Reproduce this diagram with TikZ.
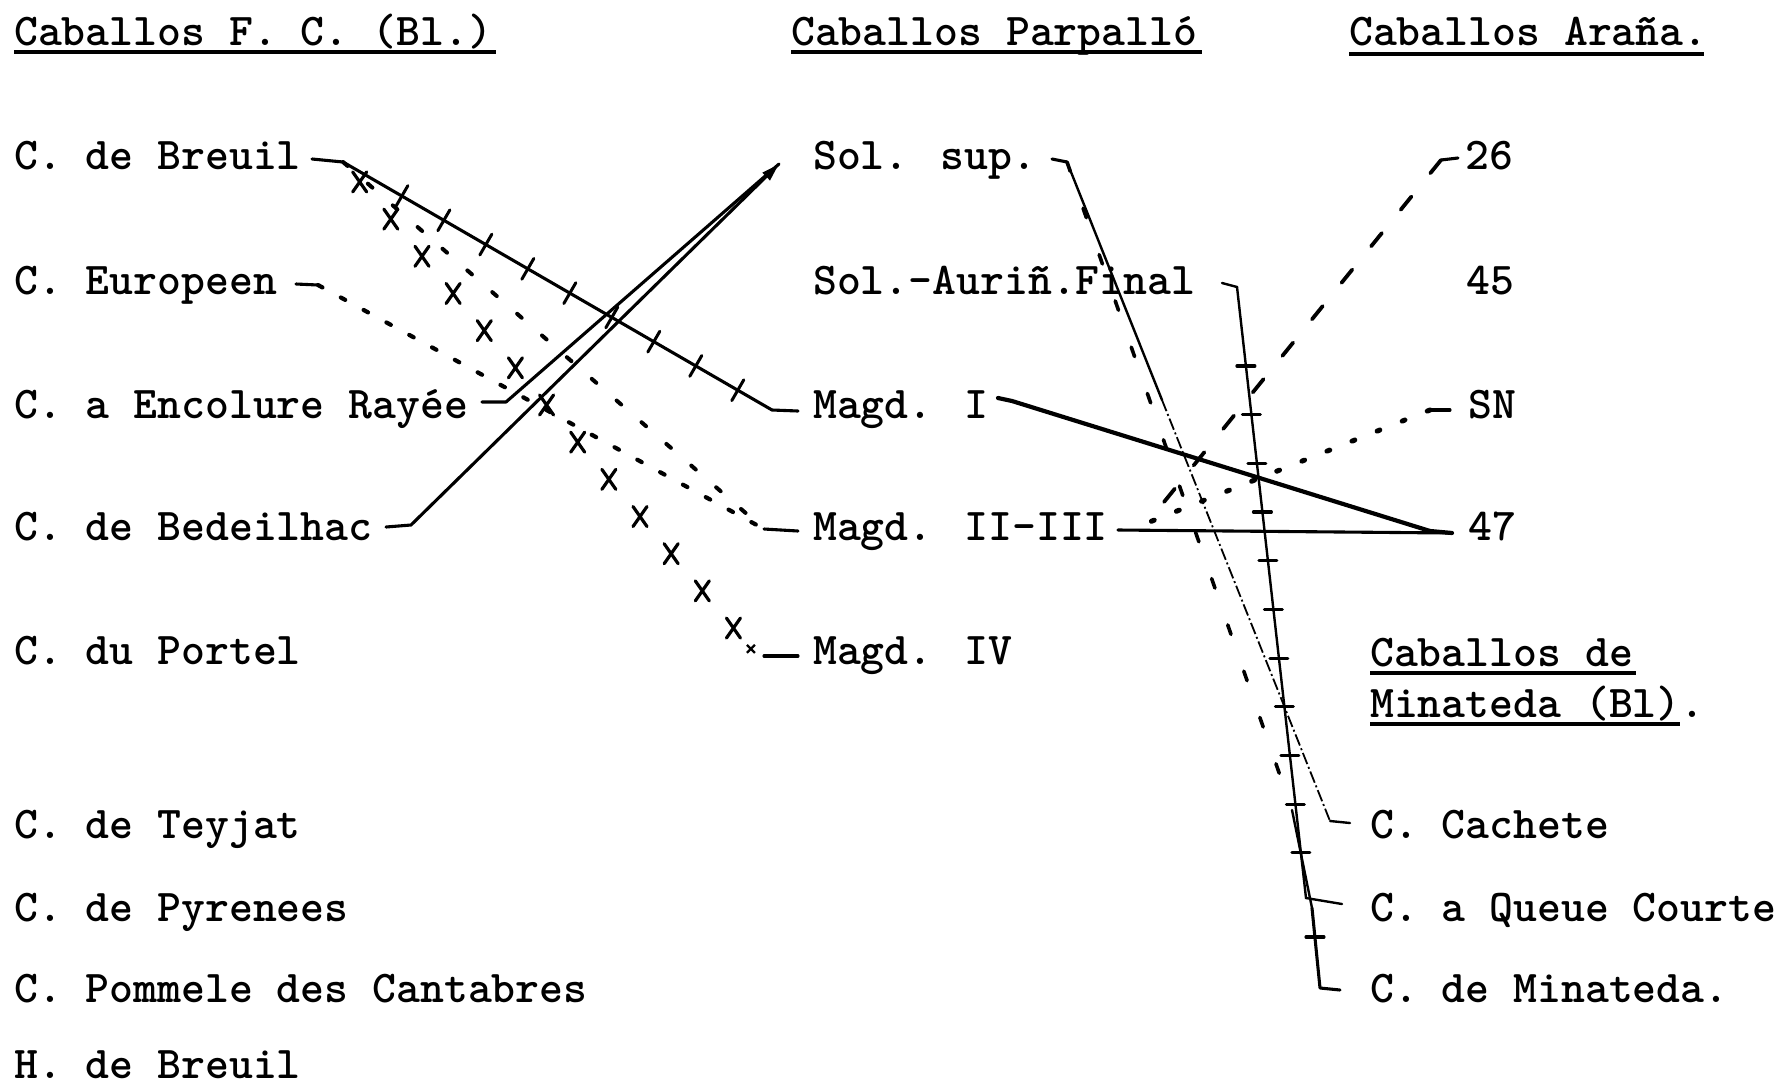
\documentclass[tikz,border=0pt]{standalone}
\usepackage{fontspec}
\usetikzlibrary{decorations.markings,arrows.meta}
\newcommand\twfont{\fontsize{45.5}{50}\selectfont\ttfamily\bfseries}
\begin{document}
\begin{tikzpicture}[x=1pt,y=-1pt,
  lbl/.style={anchor=base west,inner sep=0pt,font=\twfont},
  ln/.style={line width=3.1pt,line cap=round,line join=round},
  thk/.style={line width=4.2pt,line cap=round,line join=round},
  uline/.style={line width=3.2pt},
  thinln/.style={line width=2.4pt,line cap=round},
  dashdotln/.style={line width=1.8pt,dash pattern=on 12pt off 3pt on 2pt off 3pt},
  dotsC/.style={line width=4.2pt,line cap=round,dash pattern=on 5pt off 21pt},
  dotsD/.style={line width=4pt,line cap=round,dash pattern=on 6pt off 27pt},
  dashI/.style={line width=3.6pt,line cap=round,dash pattern=on 10pt off 39pt},
  dashJ/.style={line width=3.8pt,line cap=round,dash pattern=on 17pt off 30pt},
  dotsK/.style={line width=5pt,line cap=round,dash pattern=on 3pt off 24pt},
  tickline/.style={postaction={decorate,decoration={markings,
     mark=between positions 68pt and 460pt step 48.5pt with {\draw[line width=3pt] (0,-12) -- (0,12);}}}},
  xline/.style={postaction={decorate,decoration={markings,
     mark=between positions 26pt and 612pt step 48.5pt with {\pgftransformresetnontranslations\draw[line width=3.2pt,line cap=round] (-7,-10) -- (7,10) (-7,10) -- (7,-10);},
     mark=at position 1 with {\pgftransformresetnontranslations\draw[line width=2.4pt] (-4,-4) -- (4,4) (-4,4) -- (4,-4);}}}},
  plusline/.style={postaction={decorate,decoration={markings,
     mark=between positions 95pt and 590pt step 49pt with {\pgftransformresetnontranslations\draw[ln] (-9,0) -- (9,0);}}}},
]
\fill[white] (0,0) rectangle (1780,1088);
\useasboundingbox (0,0) rectangle (1780,1088);

% headings
\node[lbl] (hFC) at (14,45) {Caballos F. C. (Bl.)};
\node[lbl] (hPa) at (791,45) {Caballos Parpalló};
\node[lbl] (hAr) at (1349,45) {Caballos Araña.};
\draw[uline] (14,52) -- (496,52);
\draw[uline] (791,52) -- (1202,52);
\draw[line width=4pt] (1349,54) -- (1704,54);

% left column
\node[lbl] (breuil) at (14,169) {C. de Breuil};
\node[lbl] (europ) at (14,294) {C. Europeen};
\node[lbl] (encol) at (14,418) {C. a Encolure Rayée};
\node[lbl] (bedei) at (14,540) {C. de Bedeilhac};
\node[lbl] (portel) at (14,664) {C. du Portel};
\node[lbl] (teyjat) at (14,838) {C. de Teyjat};
\node[lbl] (pyr) at (14,921) {C. de Pyrenees};
\node[lbl] (pomm) at (14,1002) {C. Pommele des Cantabres};
\node[lbl] (hbreuil) at (14,1078) {H. de Breuil};

% middle column
\node[lbl] (solsup) at (813,169) {Sol. sup.};
\node[lbl] (solaur) at (813,294) {Sol.-Auriñ.Final};
\node[lbl] (mag1) at (813,418) {Magd. I};
\node[lbl] (mag23) at (813,540) {Magd. II-III};
\node[lbl] (mag4) at (813,664) {Magd. IV};

% Arana
\node[lbl] (a26) at (1465,169) {26};
\node[lbl] (a45) at (1466,294) {45};
\node[lbl] (aSN) at (1468,418) {SN};
\node[lbl] (a47) at (1468,540) {47};

% Minateda
\node[lbl] (hMi1) at (1370,666) {Caballos de};
\node[lbl] (hMi2) at (1370,717) {Minateda (Bl).};
\draw[uline] (1370,673) -- (1636,673);
\draw[uline] (1370,724) -- (1680,724);
\node[lbl] (cach) at (1370,838) {C. Cachete};
\node[lbl] (queue) at (1370,921) {C. a Queue Courte};
\node[lbl] (cmin) at (1370,1002) {C. de Minateda.};

% connector points
\coordinate (brS) at (312,159);
\coordinate (brO) at (343,162);
\coordinate (m1i) at (772,410);
\coordinate (m1e) at (798,411);
\coordinate (m4x) at (751,649);
\coordinate (m4s) at (764,656);
\coordinate (m4e) at (798,656);
\coordinate (euS) at (296,284);
\coordinate (euO) at (318,285);
\coordinate (m23i) at (764,529);
\coordinate (m23e) at (798,531);
\coordinate (enS) at (482,402);
\coordinate (enO) at (506,402);
\coordinate (bdS) at (386,527);
\coordinate (bdO) at (411,525);
\coordinate (ssA) at (779,164);
\coordinate (ssS) at (1052,159);
\coordinate (ssO) at (1067,162);
\coordinate (hMid) at (1162,400);
\coordinate (cachA) at (1330,821);
\coordinate (cachE) at (1350,823);
\coordinate (iA) at (1292,810);
\coordinate (mnT) at (1312,908);
\coordinate (mnB) at (1320,988);
\coordinate (mnE) at (1340,990);
\coordinate (faS) at (1222,283);
\coordinate (faO) at (1237,287);
\coordinate (qcA) at (1306,898);
\coordinate (qcE) at (1342,904);
\coordinate (a26S) at (1458,158);
\coordinate (a26O) at (1441,160);
\coordinate (snS) at (1450,410);
\coordinate (snO) at (1430,410);
\coordinate (jL) at (1147,523);
\coordinate (m23S) at (1118,530);
\coordinate (a47W) at (1452,533);
\coordinate (m1S) at (998,398);
\coordinate (m1O) at (1012,401);
\coordinate (m47) at (1430,531);

% Breuil connectors
\draw[ln] (brS) -- (brO);
\draw[ln,tickline] (brO) -- (m1i) -- (m1e);
\path[xline] (brO) -- (m4x);
\draw[ln] (m4s) -- (m4e);
\draw[dotsD] (brO) -- (m23i);
% Europeen
\draw[ln] (euS) -- (euO);
\draw[dotsC] (euO) -- (m23i);
\draw[ln] (m23i) -- (m23e);
% Encolure and Bedeilhac to Sol. sup.
\draw[ln] (enS) -- (enO) -- (ssA);
\draw[ln,-{Triangle[length=18pt,width=10pt]}] (bdS) -- (bdO) -- (ssA);

% Sol. sup. to Minateda
\draw[ln] (ssS) -- (ssO);
\draw[thinln] (ssO) -- (hMid);
\draw[dashdotln] (hMid) -- (cachA);
\draw[thinln] (cachA) -- (cachE);
\draw[dashI] (ssO) -- (iA);
\draw[thinln] (iA) -- (mnT);
\draw[ln] (mnT) -- (mnB) -- (mnE);
\draw[ln] (1306,937) -- (1324,937);

% Sol.-Aurin. Final to Queue Courte
\draw[thinln,plusline] (faS) -- (faO) -- (qcA) -- (qcE);

% Arana connectors
\draw[ln] (a26S) -- (a26O);
\draw[dashJ] (a26O) -- (jL);
\draw[ln] (snS) -- (snO);
\draw[dotsK] (snO) -- (jL);
\draw[ln] (m23S) -- (a47W);
\draw[thk] (m1S) -- (m1O) -- (m47) -- (a47W);
\end{tikzpicture}
\end{document}
